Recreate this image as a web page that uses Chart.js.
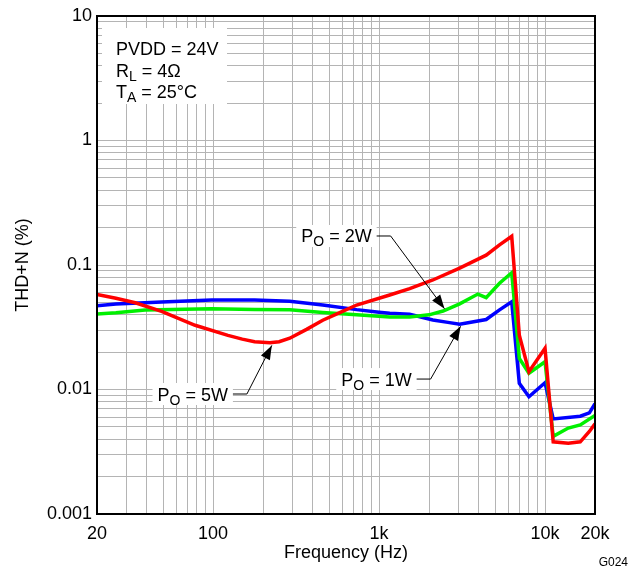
<!DOCTYPE html>
<html><head><meta charset="utf-8">
<script src="https://cdn.jsdelivr.net/npm/chart.js@4.4.1/dist/chart.umd.min.js"></script>
<style>html,body{margin:0;padding:0;background:#fff}</style>
</head><body>
<canvas id="c" width="640" height="572"></canvas>
<script>
// ---- data ----
const freq5W = [20, 26, 34, 49, 78, 123, 150, 178, 220, 250, 290, 366, 458, 580, 733, 1160, 1530, 2110, 3060, 4420, 5320, 6300, 7000, 8000, 10000, 11200, 13800, 16300, 18500, 20000];
const thd5W  = [0.058, 0.054, 0.0497, 0.0424, 0.0328, 0.0272, 0.0254, 0.0242, 0.0237, 0.0242, 0.0258, 0.0304, 0.036, 0.0415, 0.0477, 0.0574, 0.0647, 0.0758, 0.0943, 0.120, 0.145, 0.170, 0.0273, 0.0139, 0.0214, 0.0038, 0.0037, 0.0038, 0.0046, 0.0053];

const freq2W = [20, 26, 39, 98, 178, 290, 458, 733, 1160, 1530, 2000, 2430, 3060, 3940, 4420, 5320, 6300, 7000, 8000, 10000, 11200, 13800, 16300, 20000];
const thd2W  = [0.0404, 0.0413, 0.0435, 0.0446, 0.044, 0.0438, 0.0416, 0.0398, 0.0383, 0.0383, 0.0398, 0.0427, 0.0487, 0.0584, 0.0546, 0.0713, 0.0867, 0.0178, 0.0135, 0.0167, 0.0042, 0.0049, 0.0052, 0.0062];

const freq1W = [20, 26, 49, 98, 178, 290, 458, 733, 1000, 1160, 1530, 2110, 2600, 3060, 4420, 5320, 6300, 7000, 8000, 10000, 11200, 16300, 18500, 20000];
const thd1W  = [0.047, 0.0486, 0.0505, 0.0524, 0.0524, 0.0511, 0.0477, 0.0438, 0.0418, 0.0409, 0.0402, 0.0362, 0.0346, 0.0335, 0.0365, 0.0436, 0.0507, 0.0112, 0.00875, 0.01135, 0.0058, 0.0061, 0.0065, 0.0077];

const xGridValues = [20,30,40,50,60,70,80,90,100,200,300,400,500,600,700,800,900,1000,2000,3000,4000,5000,6000,7000,8000,9000,10000,20000];
const xLabelValues = [20, 100, 1000, 10000, 20000];
const xLabelTexts  = ['20', '100', '1k', '10k', '20k'];
const yGridValues = [0.001,0.002,0.003,0.004,0.005,0.006,0.007,0.008,0.009,0.01,0.02,0.03,0.04,0.05,0.06,0.07,0.08,0.09,0.1,0.2,0.3,0.4,0.5,0.6,0.7,0.8,0.9,1,2,3,4,5,6,7,8,9,10];
const yLabelValues = [0.001, 0.01, 0.1, 1, 10];
const yLabelTexts  = ['0.001', '0.01', '0.1', '1', '10'];

const seriesNames = ['PO = 5W', 'PO = 2W', 'PO = 1W'];
// callouts: arrow tip and leader elbow in data units (frequency, THD+N)
const callouts = [
  {parts:[['P',0],['O',1],[' = 2W',0]], tip:[2480, 0.0445], elbow:[1175, 0.171]},
  {parts:[['P',0],['O',1],[' = 1W',0]], tip:[3100, 0.0322], elbow:[2046, 0.01213]},
  {parts:[['P',0],['O',1],[' = 5W',0]], tip:[226, 0.0226], elbow:[160, 0.0092]}
];
const condParts = [
  [['PVDD = 24V',0]],
  [['R',0],['L',1],[' = 4Ω',0]],
  [['T',0],['A',1],[' = 25°C',0]]
];

const FONT = "'Liberation Sans', Arial, sans-serif";
const MAIN = '18px ' + FONT;
const SUB = '14px ' + FONT;

function pts(f, v){ return f.map((x,i)=>({x:x, y:v[i]})); }
function lookup(vals, texts, v){
  for (let i=0;i<vals.length;i++){ if (Math.abs(vals[i]-v)/vals[i] < 1e-6) return texts[i]; }
  return '';
}
function richWidth(ctx, parts){ let w=0; for (const p of parts){ ctx.font = p[1]?SUB:MAIN; w += ctx.measureText(p[0]).width; } return w; }
function drawRich(ctx, parts, x, yMid){
  ctx.textBaseline = 'alphabetic'; ctx.textAlign = 'left'; ctx.fillStyle = '#000';
  let cx = x; const base = yMid + 6.5;
  for (const p of parts){ ctx.font = p[1]?SUB:MAIN; ctx.fillText(p[0], cx, base + (p[1]?4:0)); cx += ctx.measureText(p[0]).width; }
}

const annot = {
  id: 'annot',
  afterDatasetsDraw(chart){
    const ctx = chart.ctx, a = chart.chartArea, sx = chart.scales.x, sy = chart.scales.y;
    ctx.save();
    // conditions box
    ctx.fillStyle = '#fff';
    ctx.fillRect(a.left + 5, a.top + 12, 125, 76);
    const ys = [32, 54, 75];
    condParts.forEach((p,i)=>drawRich(ctx, p, a.left + 19, a.top + ys[i]));
    // callouts
    for (const c of callouts){
      const ex = sx.getPixelForValue(c.elbow[0]), ey = sy.getPixelForValue(c.elbow[1]);
      const tx = sx.getPixelForValue(c.tip[0]), ty = sy.getPixelForValue(c.tip[1]);
      const w = richWidth(ctx, c.parts);
      const textRight = ex - 19, textLeft = textRight - w;
      ctx.fillStyle = '#fff';
      ctx.fillRect(textLeft - 5, ey - 11, (ex - 14) - (textLeft - 5), 22);
      drawRich(ctx, c.parts, textLeft, ey);
      ctx.strokeStyle = '#000'; ctx.lineWidth = 1;
      ctx.beginPath(); ctx.moveTo(ex - 14, ey); ctx.lineTo(ex, ey); ctx.lineTo(tx, ty); ctx.stroke();
      const ang = Math.atan2(ty - ey, tx - ex), L = 14, W = 5;
      ctx.fillStyle = '#000';
      ctx.beginPath(); ctx.moveTo(tx, ty);
      ctx.lineTo(tx - L*Math.cos(ang) + W*Math.sin(ang), ty - L*Math.sin(ang) - W*Math.cos(ang));
      ctx.lineTo(tx - L*Math.cos(ang) - W*Math.sin(ang), ty - L*Math.sin(ang) + W*Math.cos(ang));
      ctx.closePath(); ctx.fill();
    }
    // plot frame
    ctx.strokeStyle = '#000'; ctx.lineWidth = 2;
    ctx.strokeRect(a.left, a.top, a.right - a.left, a.bottom - a.top);
    // figure id
    ctx.font = '12px ' + FONT; ctx.fillStyle = '#000'; ctx.textAlign = 'right'; ctx.textBaseline = 'middle';
    ctx.fillText('G024', 628, 563);
    ctx.restore();
  }
};

new Chart(document.getElementById('c'), {
  type: 'line',
  data: {
    datasets: [
      {label: seriesNames[0], data: pts(freq5W, thd5W), borderColor: '#ff0000', borderWidth: 3.5, pointRadius: 0, tension: 0, fill: false},
      {label: seriesNames[1], data: pts(freq2W, thd2W), borderColor: '#00f000', borderWidth: 3.5, pointRadius: 0, tension: 0, fill: false},
      {label: seriesNames[2], data: pts(freq1W, thd1W), borderColor: '#0000ff', borderWidth: 3.5, pointRadius: 0, tension: 0, fill: false}
    ]
  },
  options: {
    responsive: false, animation: false, devicePixelRatio: 1,
    layout: {padding: {top: 16, right: 45, bottom: 0, left: 0}},
    plugins: {legend: {display: false}, tooltip: {enabled: false}},
    scales: {
      x: {
        type: 'logarithmic', min: 20, max: 20000,
        afterBuildTicks: s => { s.ticks = xGridValues.map(v => ({value: v})); },
        afterFit: s => { s.height = 58; },
        grid: {color: '#b4b4b4', lineWidth: 1, drawTicks: false},
        border: {display: false},
        ticks: {autoSkip: false, maxRotation: 0, padding: 9, color: '#000', font: {family: FONT, size: 18},
                callback: v => lookup(xLabelValues, xLabelTexts, v)},
        title: {display: true, text: 'Frequency (Hz)', color: '#000', font: {family: FONT, size: 18}, padding: {top: 0, bottom: 8}}
      },
      y: {
        type: 'logarithmic', min: 0.001, max: 10,
        afterBuildTicks: s => { s.ticks = yGridValues.map(v => ({value: v})); },
        afterFit: s => { s.width = 97; },
        grid: {color: '#b4b4b4', lineWidth: 1, drawTicks: false},
        border: {display: false},
        ticks: {autoSkip: false, padding: 5, color: '#000', font: {family: FONT, size: 18},
                callback: v => lookup(yLabelValues, yLabelTexts, v)},
        title: {display: true, text: 'THD+N (%)', color: '#000', font: {family: FONT, size: 18}, padding: {top: 12, bottom: 0}}
      }
    }
  },
  plugins: [annot]
});
</script>
</body></html>
